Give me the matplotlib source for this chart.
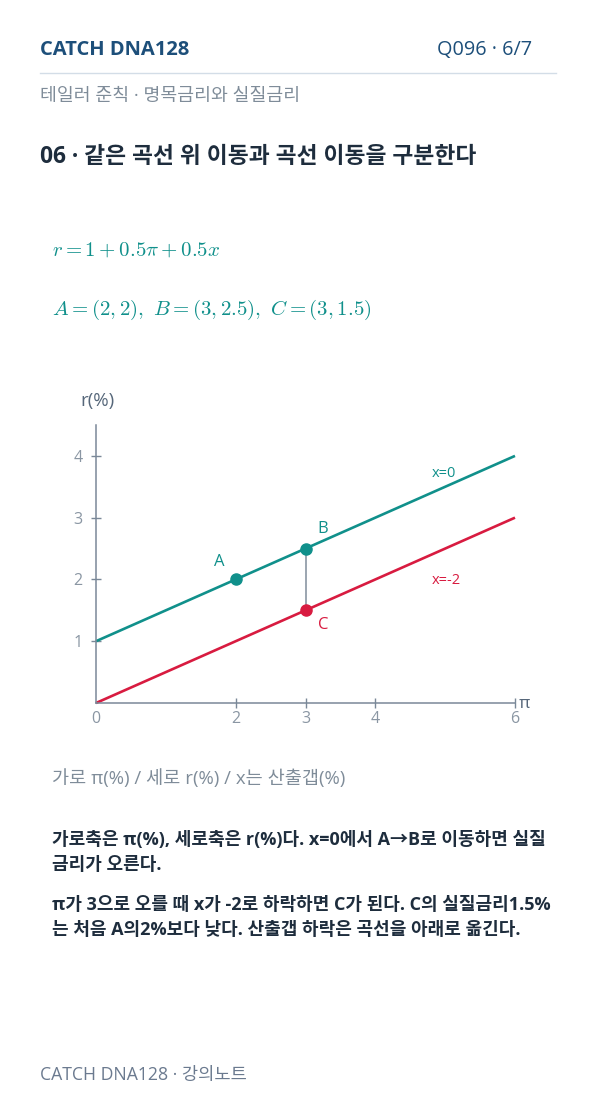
import matplotlib.pyplot as plt

plt.rcParams['font.family'] = ['Open Sans', 'Noto Sans CJK KR', 'DejaVu Sans']
plt.rcParams['mathtext.fontset'] = 'cm'

# data
pi_range = [0, 6]
r_x0 = [1, 4]        # x = 0
r_xm2 = [0, 3]       # x = -2
pt_names = ['A', 'B', 'C']
pt_pi = [2, 3, 3]
pt_r = [2, 2.5, 1.5]
x_ticks = [0, 2, 3, 4, 6]
y_ticks = [1, 2, 3, 4]

teal = '#10908b'
red = '#d81b40'
axis_c = '#7a8898'
tick_c = '#8a96a3'
dark = '#1e2d3d'
navy = '#1d4f7a'
grey = '#7f8c99'

W, H = 596, 1106
fig = plt.figure(figsize=(W / 100, H / 100), dpi=100)
fig.patch.set_facecolor('white')


def fx(px):
    return px / W


def fy(py):
    return 1 - py / H


# header
fig.text(fx(40), fy(50), 'CATCH DNA128', fontsize=14.5, fontweight='bold', color=navy, va='center')
fig.text(fx(532), fy(50), 'Q096 · 6/7', fontsize=14.3, color=navy, va='center', ha='right')
fig.add_artist(plt.Line2D([fx(40), fx(556)], [fy(73), fy(73)], color='#d3dde7', lw=1))
fig.text(fx(40), fy(96), '테일러 준칙 · 명목금리와 실질금리', fontsize=13.2, color=grey, va='center')
fig.text(fx(40), fy(157), '06 · 같은 곡선 위 이동과 곡선 이동을 구분한다', fontsize=16.4,
         fontweight='bold', color=dark, va='center')

# formulas
fig.text(fx(52), fy(250), r'$r = 1 + 0.5\pi + 0.5x$', fontsize=15, color=teal, va='center')
fig.text(fx(52), fy(310), r'$A = (2, 2),\ B = (3, 2.5),\ C = (3, 1.5)$', fontsize=15,
         color=teal, va='center')

# chart
ax = fig.add_axes([fx(96), fy(703), fx(515) - fx(96), fy(425) - fy(703)])
ax.plot(pi_range, r_x0, color=teal, lw=1.9, solid_capstyle='butt')
ax.plot(pi_range, r_xm2, color=red, lw=1.9, solid_capstyle='butt')
ax.plot([pt_pi[1], pt_pi[2]], [pt_r[1], pt_r[2]], color=tick_c, lw=1.2, zorder=1)
pt_colors = [teal, teal, red]
for x, y, c in zip(pt_pi, pt_r, pt_colors):
    ax.plot(x, y, 'o', ms=8, color=c, zorder=5)

ax.text(pt_pi[0] - 0.23, pt_r[0] + 0.28, 'A', color=teal, fontsize=12, ha='center', va='center')
ax.text(pt_pi[1] + 0.24, pt_r[1] + 0.31, 'B', color=teal, fontsize=12, ha='center', va='center')
ax.text(pt_pi[2] + 0.25, pt_r[2] - 0.24, 'C', color=red, fontsize=12, ha='center', va='center')
ax.text(4.81, 3.72, 'x=0', color=teal, fontsize=10.5, ha='left', va='center')
ax.text(4.81, 1.99, 'x=-2', color=red, fontsize=10.5, ha='left', va='center')

ax.set_xlim(0, 6)
ax.set_ylim(0, 4.5)
for s in ['top', 'right']:
    ax.spines[s].set_visible(False)
for s in ['left', 'bottom']:
    ax.spines[s].set_color(axis_c)
    ax.spines[s].set_linewidth(1.1)
ax.set_xticks(x_ticks)
ax.set_xticklabels([str(t) for t in x_ticks])
ax.set_yticks(y_ticks)
ax.set_yticklabels([str(t) for t in y_ticks])
ax.tick_params(axis='both', direction='inout', length=7, width=1, color=axis_c,
               labelcolor=tick_c, labelsize=11.5)
ax.tick_params(axis='x', pad=2)
ax.tick_params(axis='y', pad=6)
ax.xaxis.get_major_ticks()[0].tick1line.set_visible(False)
for ln in ax.get_lines():
    ln.set_clip_on(False)

fig.text(fx(80), fy(401), 'r(%)', fontsize=13.5, color='#56677a', va='center')
fig.text(fx(519), fy(704), 'π', fontsize=12.5, color='#56677a', va='center')

# caption and notes
fig.text(fx(52), fy(779), '가로 π(%) / 세로 r(%) / x는 산출갭(%)', fontsize=13.4, color=grey, va='center')
body = [
    (840, '가로축은 π(%), 세로축은 r(%)다. x=0에서 A→B로 이동하면 실질'),
    (865, '금리가 오른다.'),
    (905, 'π가 3으로 오를 때 x가 -2로 하락하면 C가 된다. C의 실질금리1.5%'),
    (930, '는 처음 A의2%보다 낮다. 산출갭 하락은 곡선을 아래로 옮긴다.'),
]
for py, line in body:
    fig.text(fx(52), fy(py), line, fontsize=13, fontweight='bold', color=dark, va='center')

fig.text(fx(40), fy(1075), 'CATCH DNA128 · 강의노트', fontsize=12.7, color='#6b7a8f', va='center')

fig.savefig('out.png', dpi=100, facecolor='white')
